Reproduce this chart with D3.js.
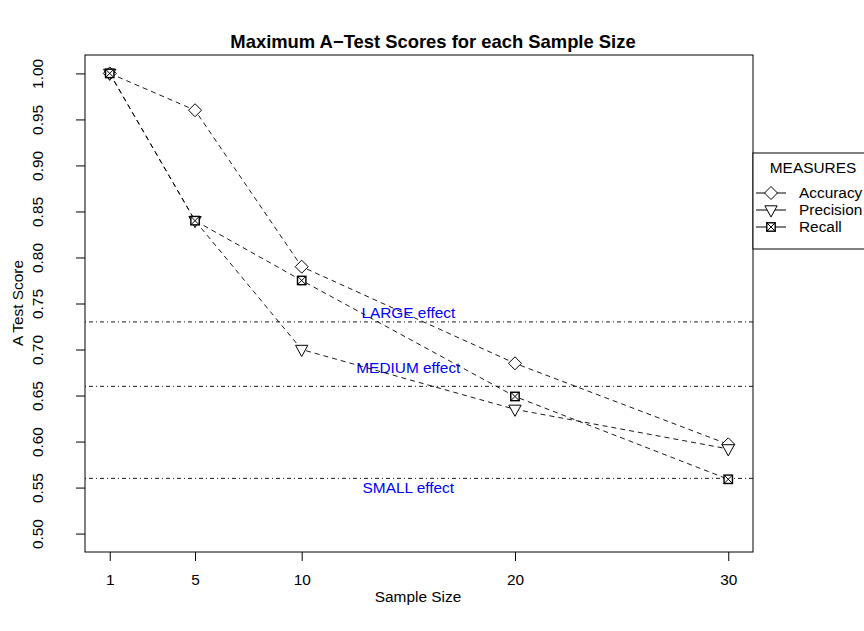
<!DOCTYPE html>
<html>
<head>
<meta charset="utf-8">
<script src="https://cdn.jsdelivr.net/npm/d3@7"></script>
<style>
body{margin:0;background:#fff;}
svg{display:block;font-family:"Liberation Sans",Arial,Helvetica,sans-serif;}
</style>
</head>
<body>
<svg id="chart" width="864" height="631"></svg>
<script>
const sampleSizes = [1, 5, 10, 20, 30];
const accuracy  = [1.0, 0.96, 0.79, 0.685, 0.597];
const precision = [1.0, 0.84, 0.70, 0.635, 0.592];
const recall    = [1.0, 0.84, 0.775, 0.649, 0.559];
const seriesNames = ["Accuracy", "Precision", "Recall"];
const yTicks = [0.50, 0.55, 0.60, 0.65, 0.70, 0.75, 0.80, 0.85, 0.90, 0.95, 1.00];
const effectThresholds = [0.73, 0.66, 0.56];
const effectLabels = ["LARGE effect", "MEDIUM effect", "SMALL effect"];
const effectLabelY = [0.74, 0.68, 0.55];
const effectLabelX = 15;

const FS = 15.4;
const svg = d3.select("#chart");
const L = 85, R = 753, T = 55, B = 552;

const x = d3.scaleLinear().domain([1 - 0.04*29, 30 + 0.04*29]).range([L, R]);
const y = d3.scaleLinear().domain([0.48, 1.02]).range([B, T]);

// title
svg.append("text").attr("x", 433).attr("y", 48).attr("text-anchor", "middle")
  .attr("font-weight", "bold").attr("font-size", 18.4).text("Maximum A\u2212Test Scores for each Sample Size");

// x axis
const xAxis = d3.axisBottom(x).tickValues(sampleSizes).tickSize(9).tickFormat(d3.format("d"));
const gx = svg.append("g").attr("transform", `translate(0,${B})`).call(xAxis);
gx.select(".domain").remove();
gx.selectAll("line").attr("stroke", "#000");
gx.selectAll("text").attr("font-size", FS).attr("font-family", "Liberation Sans, Arial, sans-serif").attr("fill", "#000")
  .attr("y", 28).attr("dy", "0.35em");

// y axis
const yAxis = d3.axisLeft(y).tickValues(yTicks).tickSize(9).tickFormat(d3.format(".2f"));
const gy = svg.append("g").attr("transform", `translate(${L},0)`).call(yAxis);
gy.select(".domain").remove();
gy.selectAll("line").attr("stroke", "#000");
gy.selectAll(".tick text").attr("font-size", FS).attr("font-family", "Liberation Sans, Arial, sans-serif").attr("fill", "#000")
  .attr("text-anchor", "middle").attr("x", null).attr("y", 0).attr("dy", "0.35em")
  .attr("transform", "translate(-47,0) rotate(-90)");

// axis labels
svg.append("text").attr("x", 418).attr("y", 597).attr("dy", "0.35em").attr("text-anchor", "middle").attr("font-size", FS).text("Sample Size");
svg.append("text").attr("transform", "translate(18,303) rotate(-90)").attr("dy", "0.35em").attr("text-anchor", "middle").attr("font-size", FS).text("A Test Score");

// effect thresholds
svg.append("g").selectAll("line").data(effectThresholds).join("line")
  .attr("x1", L).attr("x2", R).attr("y1", d => y(d)).attr("y2", d => y(d))
  .attr("stroke", "#000").attr("stroke-width", 0.9).attr("stroke-dasharray", "1,3,4,3");
svg.append("g").selectAll("text").data(effectLabels).join("text")
  .attr("x", x(effectLabelX)).attr("y", (d, i) => y(effectLabelY[i])).attr("dy", "0.35em")
  .attr("text-anchor", "middle").attr("font-size", FS).attr("fill", "#0000FF").text(d => d);

// series
const allSeries = [accuracy, precision, recall];
const line = d3.line().x((d, i) => x(sampleSizes[i])).y(d => y(d));
svg.append("g").selectAll("path").data(allSeries).join("path")
  .attr("d", d => line(d)).attr("fill", "none").attr("stroke", "#000").attr("stroke-width", 0.9)
  .attr("stroke-dasharray", "5,4");

function drawMarker(g, type, cx, cy) {
  if (type === 0) {
    const s = 6.5;
    g.append("path").attr("d", `M${cx},${cy - s}L${cx + s},${cy}L${cx},${cy + s}L${cx - s},${cy}Z`)
      .attr("fill", "#fff").attr("stroke", "#000").attr("stroke-width", 1);
  } else if (type === 1) {
    const h = 5.6;
    g.append("path").attr("d", `M${cx - h*1.1},${cy - h*0.75}L${cx + h*1.1},${cy - h*0.75}L${cx},${cy + h*1.25}Z`)
      .attr("fill", "#fff").attr("stroke", "#000").attr("stroke-width", 1);
  } else {
    const h = 4.2;
    g.append("rect").attr("x", cx - h).attr("y", cy - h).attr("width", 2*h).attr("height", 2*h)
      .attr("fill", "#fff").attr("stroke", "#000").attr("stroke-width", 1.4);
    g.append("path").attr("d", `M${cx-h},${cy-h}L${cx+h},${cy+h}M${cx+h},${cy-h}L${cx-h},${cy+h}`)
      .attr("stroke", "#000").attr("stroke-width", 1);
  }
}

const mg = svg.append("g");
allSeries.forEach((ser, k) => {
  ser.forEach((v, i) => drawMarker(mg, k, x(sampleSizes[i]), y(v)));
});

// plot box
svg.append("rect").attr("x", L).attr("y", T).attr("width", R - L).attr("height", B - T)
  .attr("fill", "none").attr("stroke", "#000").attr("stroke-width", 1);

// legend
const lg = svg.append("g");
lg.append("rect").attr("x", R).attr("y", 153).attr("width", 130).attr("height", 96)
  .attr("fill", "#fff").attr("stroke", "#000").attr("stroke-width", 1);
lg.append("text").attr("x", 813).attr("y", 168).attr("dy", "0.35em").attr("text-anchor", "middle").attr("font-size", FS).text("MEASURES");
seriesNames.forEach((name, k) => {
  const ly = 193 + k * 17;
  lg.append("line").attr("x1", 756).attr("x2", 786).attr("y1", ly).attr("y2", ly).attr("stroke", "#000").attr("stroke-width", 1);
  drawMarker(lg, k, 771, ly);
  lg.append("text").attr("x", 799).attr("y", ly).attr("dy", "0.35em").attr("font-size", FS).text(name);
});
</script>
</body>
</html>
